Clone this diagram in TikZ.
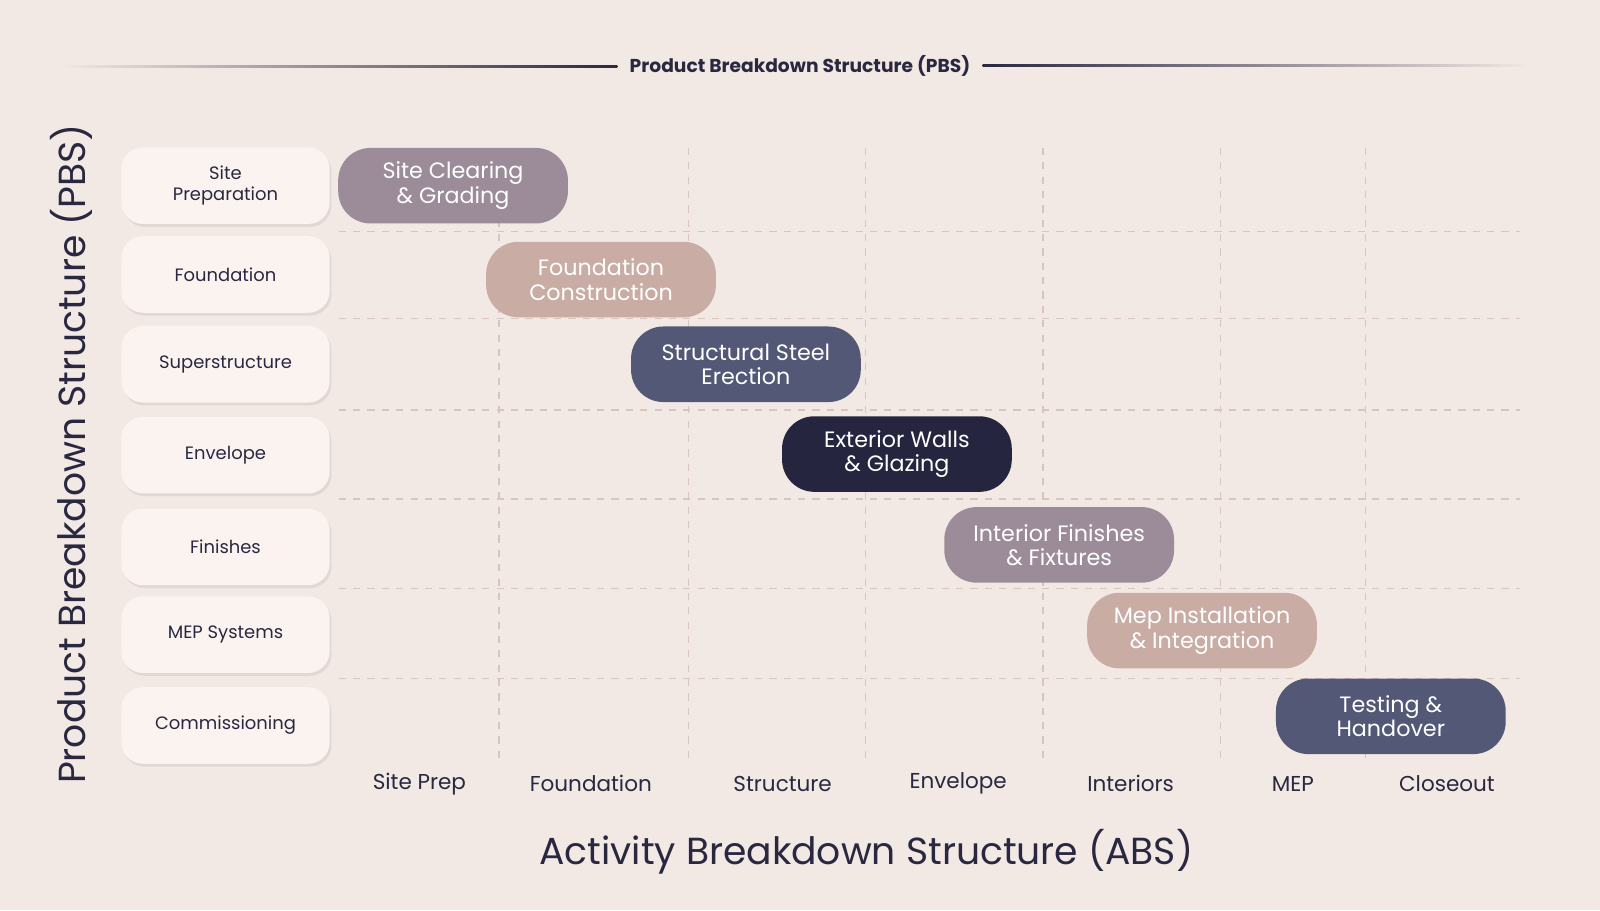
\documentclass[tikz,border=0pt]{standalone}
\usepackage{fontspec}
\setmainfont{Poppins}
\usetikzlibrary{positioning,shadows}
\definecolor{bgc}{HTML}{F2E8E4}
\definecolor{rowc}{HTML}{FAF3F0}
\definecolor{mauve}{HTML}{9C8C9A}
\definecolor{rose}{HTML}{C9ACA4}
\definecolor{slate}{HTML}{525875}
\definecolor{night}{HTML}{25253F}
\definecolor{ink}{HTML}{2A2840}
\definecolor{gridc}{HTML}{D9C4BE}
\tikzset{
  rowbox/.style={draw=none, fill=rowc, rounded corners=6pt, minimum width=2.04cm, minimum height=0.75cm,
    align=center, font=\fontsize{5}{6}\selectfont, text=ink, drop shadow={opacity=0.15, shadow xshift=0.5pt, shadow yshift=-0.8pt}},
  task/.style={rounded corners=9pt, minimum width=2.25cm, minimum height=0.74cm, align=center,
    font=\fontsize{6.2}{6.8}\selectfont, text=white},
  collabel/.style={font=\fontsize{6}{7}\selectfont, text=ink},
  gridline/.style={gridc, dashed, line width=0.4pt, dash pattern=on 2pt off 2pt}
}
\begin{document}
\begin{tikzpicture}[x=0.01cm,y=-0.01cm]
\fill[bgc] (0,0) rectangle (1568,892);
% top title
\node[font=\bfseries\fontsize{5.2}{6}\selectfont, text=ink] (title) at (784,65) {Product Breakdown Structure (PBS)};
\shade[left color=bgc, right color=ink] (60,64) rectangle (605,66);
\shade[left color=ink, right color=bgc] (963,63) rectangle (1500,65);
% grid
\foreach \y in {227,312,402,489,577,665}
  \draw[gridline] (332,\y) -- (1490,\y);
\foreach \x in {489,675,848,1022,1196,1338}
  \draw[gridline] (\x,145) -- (\x,748);
% rows
\node[rowbox] (r1) at (221,182) {Site\\Preparation};
\node[rowbox] (r2) at (221,269) {Foundation};
\node[rowbox] (r3) at (221,357) {Superstructure};
\node[rowbox] (r4) at (221,446) {Envelope};
\node[rowbox] (r5) at (221,536) {Finishes};
\node[rowbox] (r6) at (221,622) {MEP Systems};
\node[rowbox] (r7) at (221,711) {Commissioning};
% activities
\node[task, fill=mauve] (t1) at (444,182) {Site Clearing\\\& Grading};
\node[task, fill=rose] (t2) at (589,274) {Foundation\\Construction};
\node[task, fill=slate] (t3) at (731,357) {Structural Steel\\Erection};
\node[task, fill=night] (t4) at (879,445) {Exterior Walls\\\& Glazing};
\node[task, fill=mauve] (t5) at (1038,534) {Interior Finishes\\\& Fixtures};
\node[task, fill=rose] (t6) at (1178,618) {Mep Installation\\\& Integration};
\node[task, fill=slate] (t7) at (1363,702) {Testing \&\\Handover};
% columns
\node[collabel] (c1) at (411,768) {Site Prep};
\node[collabel] (c2) at (579,768) {Foundation};
\node[collabel] (c3) at (767,768) {Structure};
\node[collabel] (c4) at (939,768) {Envelope};
\node[collabel] (c5) at (1108,768) {Interiors};
\node[collabel] (c6) at (1267,768) {MEP};
\node[collabel] (c7) at (1418,768) {Closeout};
% axis titles
\node[font=\fontsize{10.5}{12}\selectfont, text=ink] (abs) at (849,835) {Activity Breakdown Structure (ABS)};
\node[font=\fontsize{10.5}{12}\selectfont, text=ink, rotate=90] (pbs) at (70,445) {Product Breakdown Structure (PBS)};
\end{tikzpicture}
\end{document}
